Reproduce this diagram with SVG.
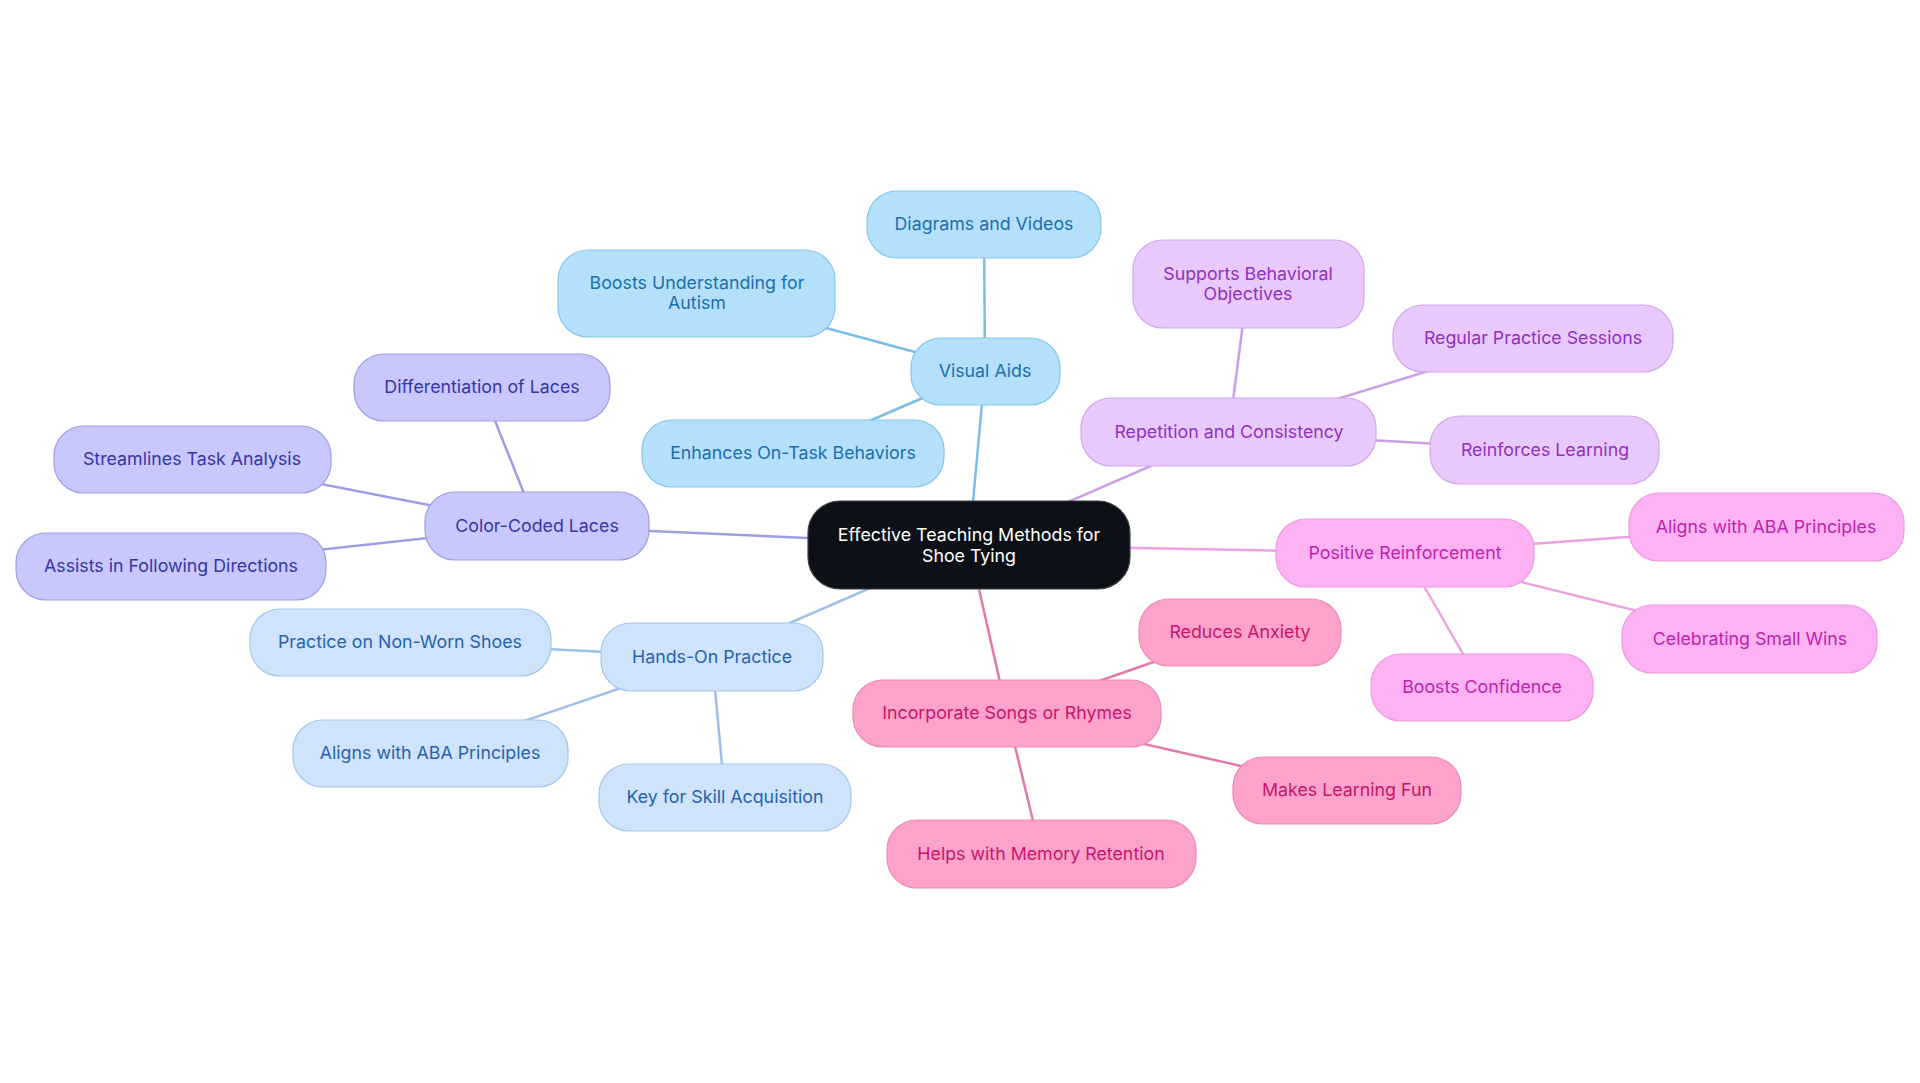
<svg xmlns="http://www.w3.org/2000/svg" width="1920" height="1083" viewBox="0 0 1920 1083">
<style>
text{font-family:Inter,"Noto Sans",sans-serif;font-size:17.8px;text-anchor:middle;dominant-baseline:central}
.e{stroke-width:2.5;fill:none}
.n rect{stroke-width:1.2}
.root rect{fill:#0d1117;stroke:#3a3f46}
.root text{fill:#ffffff}
.va rect{fill:#b4e0fc;stroke:#86c4ee}.va text{fill:#1b6fae}
.ho rect{fill:#cfe3fa;stroke:#a3c6ee}.ho text{fill:#2563b0}
.cc rect{fill:#c8c8fc;stroke:#9e9ee6}.cc text{fill:#3636a6}
.sr rect{fill:#fda3cb;stroke:#ee88b8}.sr text{fill:#c8136c}
.rc rect{fill:#e8c9fc;stroke:#d0a6ef}.rc text{fill:#9130c0}
.pr rect{fill:#fdb3f3;stroke:#ee98e4}.pr text{fill:#bf1fb0}
</style>
<rect width="1920" height="1083" fill="#ffffff"/>
<g id="connectors">
<g stroke="#7dbce6" class="e">
<line x1="969" y1="545" x2="985" y2="371"/>
<line x1="985" y1="371" x2="984" y2="225"/>
<line x1="985" y1="371" x2="697" y2="293"/>
<line x1="985" y1="371" x2="793" y2="454"/>
</g>
<g stroke="#9d9de6" class="e">
<line x1="969" y1="545" x2="537" y2="526"/>
<line x1="537" y1="526" x2="482" y2="388"/>
<line x1="537" y1="526" x2="192" y2="459"/>
<line x1="537" y1="526" x2="171" y2="566"/>
</g>
<g stroke="#9cc0e9" class="e">
<line x1="969" y1="545" x2="712" y2="657"/>
<line x1="712" y1="657" x2="400" y2="642"/>
<line x1="712" y1="657" x2="430" y2="753"/>
<line x1="712" y1="657" x2="725" y2="797"/>
</g>
<g stroke="#e07aab" class="e">
<line x1="969" y1="545" x2="1007" y2="713"/>
<line x1="1007" y1="713" x2="1240" y2="632"/>
<line x1="1007" y1="713" x2="1347" y2="790"/>
<line x1="1007" y1="713" x2="1041" y2="854"/>
</g>
<g stroke="#cd9ee8" class="e">
<line x1="969" y1="545" x2="1229" y2="432"/>
<line x1="1229" y1="432" x2="1248" y2="284"/>
<line x1="1229" y1="432" x2="1533" y2="339"/>
<line x1="1229" y1="432" x2="1545" y2="450"/>
</g>
<g stroke="#eaa2e2" class="e">
<line x1="969" y1="545" x2="1405" y2="553"/>
<line x1="1405" y1="553" x2="1766" y2="527"/>
<line x1="1405" y1="553" x2="1750" y2="639"/>
<line x1="1405" y1="553" x2="1482" y2="687"/>
</g>
</g>
<g id="root" class="n root"><rect x="808" y="501" width="322" height="88" rx="32"/><text x="969" y="534">Effective Teaching Methods for</text><text x="969" y="555">Shoe Tying</text></g>

<g id="visual-aids" class="n va"><rect x="911" y="338" width="149" height="67" rx="30"/><text x="985" y="370">Visual Aids</text></g>
<g id="diagrams" class="n va"><rect x="867" y="191" width="234" height="67" rx="30"/><text x="984" y="223">Diagrams and Videos</text></g>
<g id="boosts-understanding" class="n va"><rect x="558" y="250" width="277" height="87" rx="30"/><text x="697" y="282">Boosts Understanding for</text><text x="697" y="302">Autism</text></g>
<g id="enhances" class="n va"><rect x="642" y="420" width="302" height="67" rx="30"/><text x="793" y="452">Enhances On-Task Behaviors</text></g>

<g id="color-coded" class="n cc"><rect x="425" y="492" width="224" height="68" rx="30"/><text x="537" y="525">Color-Coded Laces</text></g>
<g id="differentiation" class="n cc"><rect x="354" y="354" width="256" height="67" rx="30"/><text x="482" y="386">Differentiation of Laces</text></g>
<g id="streamlines" class="n cc"><rect x="54" y="426" width="277" height="67" rx="30"/><text x="192" y="458">Streamlines Task Analysis</text></g>
<g id="assists" class="n cc"><rect x="16" y="533" width="310" height="67" rx="30"/><text x="171" y="565">Assists in Following Directions</text></g>

<g id="hands-on" class="n ho"><rect x="601" y="623" width="222" height="68" rx="30"/><text x="712" y="656">Hands-On Practice</text></g>
<g id="non-worn" class="n ho"><rect x="250" y="609" width="301" height="67" rx="30"/><text x="400" y="641">Practice on Non-Worn Shoes</text></g>
<g id="aba-left" class="n ho"><rect x="293" y="720" width="275" height="67" rx="30"/><text x="430" y="752">Aligns with ABA Principles</text></g>
<g id="skill" class="n ho"><rect x="599" y="764" width="252" height="67" rx="30"/><text x="725" y="796">Key for Skill Acquisition</text></g>

<g id="songs" class="n sr"><rect x="853" y="680" width="308" height="67" rx="30"/><text x="1007" y="712">Incorporate Songs or Rhymes</text></g>
<g id="anxiety" class="n sr"><rect x="1139" y="599" width="202" height="67" rx="30"/><text x="1240" y="631">Reduces Anxiety</text></g>
<g id="fun" class="n sr"><rect x="1233" y="757" width="228" height="67" rx="30"/><text x="1347" y="789">Makes Learning Fun</text></g>
<g id="memory" class="n sr"><rect x="887" y="820" width="309" height="68" rx="30"/><text x="1041" y="853">Helps with Memory Retention</text></g>

<g id="repetition" class="n rc"><rect x="1081" y="398" width="295" height="68" rx="30"/><text x="1229" y="431">Repetition and Consistency</text></g>
<g id="supports" class="n rc"><rect x="1133" y="240" width="231" height="88" rx="30"/><text x="1248" y="273">Supports Behavioral</text><text x="1248" y="293">Objectives</text></g>
<g id="regular" class="n rc"><rect x="1393" y="305" width="280" height="67" rx="30"/><text x="1533" y="337">Regular Practice Sessions</text></g>
<g id="reinforces" class="n rc"><rect x="1430" y="416" width="229" height="68" rx="30"/><text x="1545" y="449">Reinforces Learning</text></g>

<g id="positive" class="n pr"><rect x="1276" y="519" width="258" height="68" rx="30"/><text x="1405" y="552">Positive Reinforcement</text></g>
<g id="aba-right" class="n pr"><rect x="1629" y="493" width="275" height="68" rx="30"/><text x="1766" y="526">Aligns with ABA Principles</text></g>
<g id="wins" class="n pr"><rect x="1622" y="605" width="255" height="68" rx="30"/><text x="1750" y="638">Celebrating Small Wins</text></g>
<g id="confidence" class="n pr"><rect x="1371" y="654" width="222" height="67" rx="30"/><text x="1482" y="686">Boosts Confidence</text></g>
</svg>
